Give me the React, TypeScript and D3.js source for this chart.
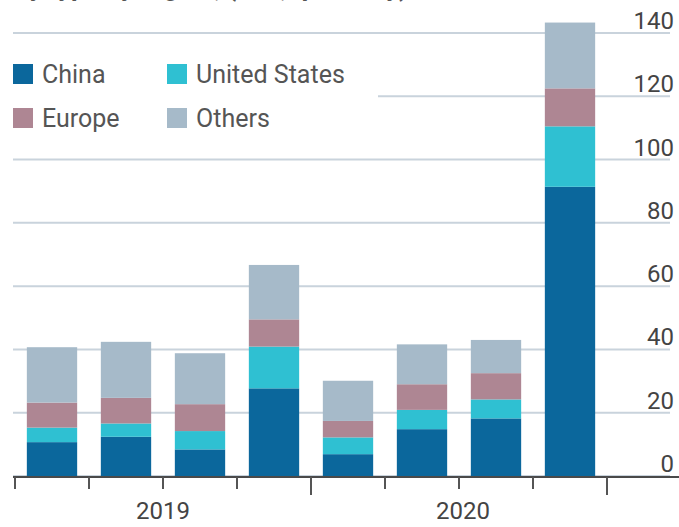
import React from "react";
import * as d3 from "d3";

const quarters = ["2019Q1", "2019Q2", "2019Q3", "2019Q4", "2020Q1", "2020Q2", "2020Q3", "2020Q4"];
const years = ["2019", "2020"];
const seriesKeys = ["China", "United States", "Europe", "Others"];
const china = [10.7, 12.4, 8.4, 27.7, 6.9, 14.8, 18.2, 91.4];
const unitedStates = [4.6, 4.2, 5.8, 13.2, 5.3, 6.1, 6.0, 19.1];
const europe = [7.9, 8.1, 8.5, 8.6, 5.2, 8.1, 8.3, 12.0];
const others = [17.5, 17.7, 16.1, 17.2, 12.7, 12.6, 10.5, 20.8];
const yTicks = [0, 20, 40, 60, 80, 100, 120, 140];
const colors = ["#0b679c", "#2fc0d2", "#ae8693", "#a6bac9"];

const W = 679;
const H = 527;
const FONT = "Roboto, 'Open Sans', sans-serif";

export default function App() {
  const table = quarters.map((q, i) => ({
    q,
    China: china[i],
    "United States": unitedStates[i],
    Europe: europe[i],
    Others: others[i],
  }));
  const stack = d3.stack<any>().keys(seriesKeys)(table);

  const x = d3.scaleBand<string>().domain(quarters).range([15, 607]).paddingInner(0.32).paddingOuter(0.16);
  const y = d3.scaleLinear().domain([0, 140]).range([476, 33]);
  const gap = (x.step() - x.bandwidth()) / 2;
  const bounds = quarters.map((q) => (x(q) as number) - gap).concat([(x(quarters[7]) as number) + x.bandwidth() + gap]);

  const legendItems = [
    { key: "China", cx: 13, cy: 64 },
    { key: "United States", cx: 167, cy: 64 },
    { key: "Europe", cx: 13, cy: 108 },
    { key: "Others", cx: 167, cy: 108 },
  ];

  return (
    <svg width={W} height={H} style={{ position: "absolute", left: 0, top: 0, background: "#fff" }}>
      <rect x={0} y={0} width={W} height={H} fill="#fff" />
      <text x={13} y={-4} fontFamily={FONT} fontSize={26} fontWeight={700} fill="#555">
        By type by region, ($bn, quarterly)
      </text>
      {yTicks.map((t) => (
        <line key={"g" + t} x1={13} x2={670} y1={y(t)} y2={y(t)} stroke="#c9d3dc" strokeWidth={2} />
      ))}
      <rect x={0} y={45} width={378} height={95} fill="#fff" />
      {yTicks.map((t) => (
        <text key={"l" + t} x={674} y={y(t) - 4} textAnchor="end" fontFamily={FONT} fontSize={24} fill="#444">
          {t}
        </text>
      ))}
      {stack.map((s, si) => (
        <g key={s.key} fill={colors[si]}>
          {s.map((d, i) => (
            <rect key={i} x={x(quarters[i])} width={x.bandwidth()} y={y(d[1])} height={y(d[0]) - y(d[1])} />
          ))}
        </g>
      ))}
      <line x1={13} x2={679} y1={477} y2={477} stroke="#4a4a4a" strokeWidth={2} />
      {bounds.map((b, i) => (
        <line key={"t" + i} x1={b} x2={b} y1={477} y2={i === 4 || i === 8 ? 495 : 489} stroke="#555" strokeWidth={2} />
      ))}
      {years.map((yr, i) => (
        <text key={yr} x={(bounds[i * 4] + bounds[i * 4 + 4]) / 2 + (i === 1 ? 4 : 0)} y={519} textAnchor="middle" fontFamily={FONT} fontSize={24} fill="#444">
          {yr}
        </text>
      ))}
      {legendItems.map((it) => (
        <g key={it.key}>
          <rect x={it.cx} y={it.cy} width={20} height={20} fill={colors[seriesKeys.indexOf(it.key)]} />
          <text x={it.cx + 29} y={it.cy + 19} fontFamily={FONT} fontSize={25} fill="#555">
            {it.key}
          </text>
        </g>
      ))}
    </svg>
  );
}
